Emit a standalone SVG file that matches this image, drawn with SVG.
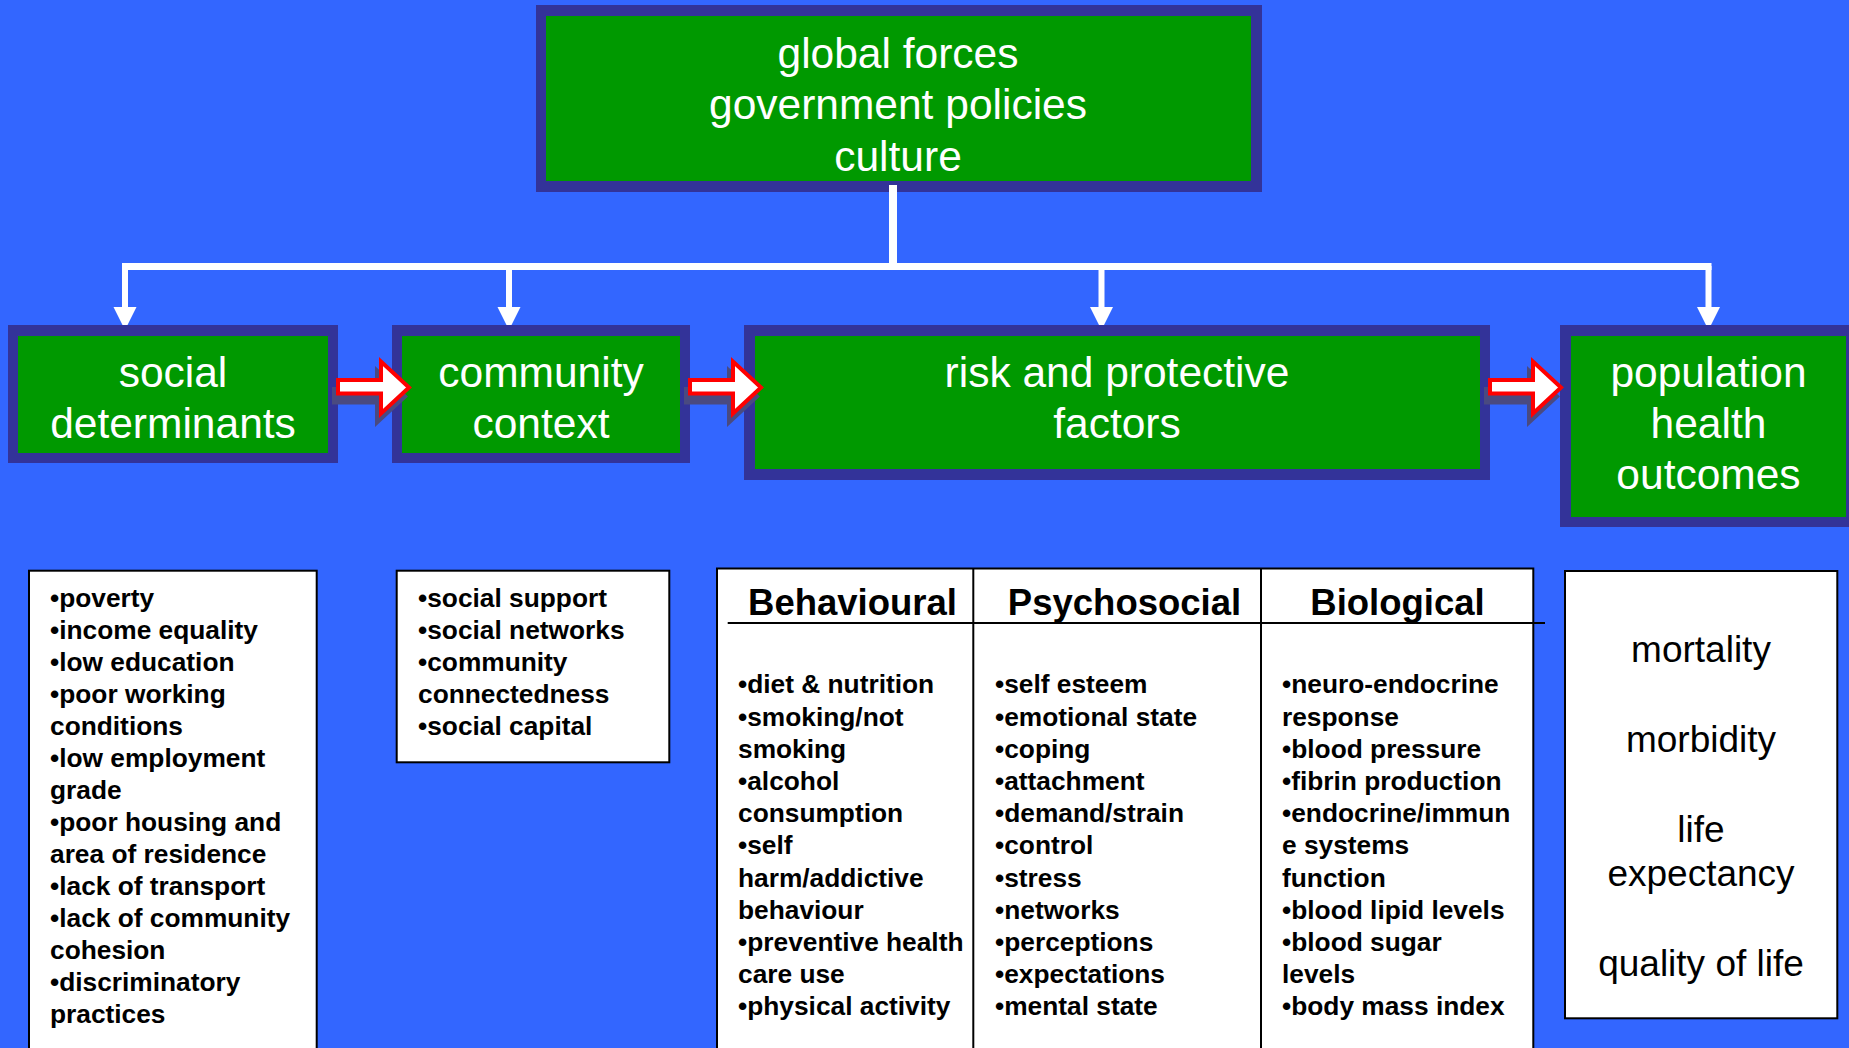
<svg xmlns="http://www.w3.org/2000/svg" width="1849" height="1048" viewBox="0 0 1849 1048">
  <style>
    .frame { fill: #333399; }
    .panel { fill: #009900; }
    .title { fill: #FFFFFF; font-family: "Liberation Sans", Arial, sans-serif; font-size: 42.5px; text-anchor: middle; }
    .card { fill: #FFFFFF; stroke: #000000; stroke-width: 2; }
    .list { fill: #000000; font-family: "Liberation Sans", Arial, sans-serif; font-size: 26.3px; font-weight: bold; }
    .colhead { fill: #000000; font-family: "Liberation Sans", Arial, sans-serif; font-size: 36.5px; font-weight: bold; text-anchor: middle; }
    .outcome { fill: #000000; font-family: "Liberation Sans", Arial, sans-serif; font-size: 37px; text-anchor: middle; }
    .wire { stroke: #FFFFFF; fill: none; }
    .tip { fill: #FFFFFF; }
    .rule { stroke: #000000; stroke-width: 2; fill: none; }
  </style>
  <defs>
    <!-- hollow block arrow with a drop shadow, used between the stage boxes -->
    <g id="blockArrow">
      <path d="M338,380 L381,380 L381,361.5 L409,387.5 L381,413.5 L381,393.5 L338,393.5 Z" transform="translate(-4,9)" fill="#4A4A80" stroke="#4A4A80" stroke-width="4" stroke-linejoin="miter"/>
      <path d="M338,380 L381,380 L381,361.5 L409,387.5 L381,413.5 L381,393.5 L338,393.5 Z" fill="#FFFFFF" stroke="#FF0000" stroke-width="4" stroke-linejoin="miter"/>
    </g>
  </defs>

  <rect x="0" y="0" width="1849" height="1048" fill="#3366FF"/>

  <!-- top node -->
  <g id="node-global">
    <rect class="frame" x="536" y="5" width="726" height="187"/>
    <rect class="panel" x="546" y="16" width="705" height="165"/>
    <text class="title" x="898" y="67.5">global forces</text>
    <text class="title" x="898" y="119">government policies</text>
    <text class="title" x="898" y="170.5">culture</text>
  </g>

  <!-- connectors from the top node -->
  <g id="connectors">
    <line class="wire" x1="893" y1="185" x2="893" y2="268" stroke-width="8"/>
    <line class="wire" x1="122" y1="266.5" x2="1711.5" y2="266.5" stroke-width="7"/>
    <line class="wire" x1="125" y1="266" x2="125" y2="309" stroke-width="6"/>
    <polygon class="tip" points="113.5,307 136.5,307 125,330"/>
    <line class="wire" x1="509" y1="266" x2="509" y2="309" stroke-width="6"/>
    <polygon class="tip" points="497.5,307 520.5,307 509,330"/>
    <line class="wire" x1="1101.5" y1="266" x2="1101.5" y2="309" stroke-width="6"/>
    <polygon class="tip" points="1090,307 1113,307 1101.5,330"/>
    <line class="wire" x1="1708.5" y1="266" x2="1708.5" y2="309" stroke-width="6"/>
    <polygon class="tip" points="1697,307 1720,307 1708.5,330"/>
  </g>

  <!-- stage nodes -->
  <g id="node-social">
    <rect class="frame" x="8" y="325" width="330" height="138"/>
    <rect class="panel" x="18" y="336" width="310" height="117"/>
    <text class="title" x="173" y="386.7">social</text>
    <text class="title" x="173" y="438.3">determinants</text>
  </g>
  <g id="node-community">
    <rect class="frame" x="392" y="325" width="298" height="138"/>
    <rect class="panel" x="402" y="336" width="278" height="117"/>
    <text class="title" x="541" y="386.7">community</text>
    <text class="title" x="541" y="438.3">context</text>
  </g>
  <g id="node-risk">
    <rect class="frame" x="744" y="325" width="746" height="155"/>
    <rect class="panel" x="755" y="336" width="725" height="133"/>
    <text class="title" x="1117" y="386.7">risk and protective</text>
    <text class="title" x="1117" y="438.3">factors</text>
  </g>
  <g id="node-population">
    <rect class="frame" x="1560" y="325" width="297" height="202"/>
    <rect class="panel" x="1571" y="336" width="275" height="181"/>
    <text class="title" x="1708.5" y="386.7">population</text>
    <text class="title" x="1708.5" y="438.3">health</text>
    <text class="title" x="1708.5" y="489.3">outcomes</text>
  </g>

  <!-- flow arrows between stages -->
  <g id="flow-arrows">
    <use href="#blockArrow"/>
    <use href="#blockArrow" transform="translate(352,0)"/>
    <use href="#blockArrow" transform="translate(1152,0)"/>
  </g>

  <!-- detail cards -->
  <g id="card-social">
    <rect class="card" x="29" y="570.7" width="287.7" height="500"/>
    <text class="list" x="50" y="606.7">
      <tspan x="50">•poverty</tspan>
      <tspan x="50" dy="32">•income equality</tspan>
      <tspan x="50" dy="32">•low education</tspan>
      <tspan x="50" dy="32">•poor working</tspan>
      <tspan x="50" dy="32">conditions</tspan>
      <tspan x="50" dy="32">•low employment</tspan>
      <tspan x="50" dy="32">grade</tspan>
      <tspan x="50" dy="32">•poor housing and</tspan>
      <tspan x="50" dy="32">area of residence</tspan>
      <tspan x="50" dy="32">•lack of transport</tspan>
      <tspan x="50" dy="32">•lack of community</tspan>
      <tspan x="50" dy="32">cohesion</tspan>
      <tspan x="50" dy="32">•discriminatory</tspan>
      <tspan x="50" dy="32">practices</tspan>
    </text>
  </g>

  <g id="card-community">
    <rect class="card" x="396.7" y="570.7" width="272.6" height="191.6"/>
    <text class="list" x="418" y="606.7">
      <tspan x="418">•social support</tspan>
      <tspan x="418" dy="32">•social networks</tspan>
      <tspan x="418" dy="32">•community</tspan>
      <tspan x="418" dy="32">connectedness</tspan>
      <tspan x="418" dy="32">•social capital</tspan>
    </text>
  </g>

  <g id="card-factors">
    <rect class="card" x="717" y="568.5" width="816.3" height="500"/>
    <line class="rule" x1="973.3" y1="568.5" x2="973.3" y2="1048"/>
    <line class="rule" x1="1261" y1="568.5" x2="1261" y2="1048"/>
    <line class="rule" x1="727.7" y1="623" x2="1545" y2="623"/>
    <text class="colhead" x="852.5" y="615">Behavioural</text>
    <text class="colhead" x="1124.5" y="615">Psychosocial</text>
    <text class="colhead" x="1397.5" y="615">Biological</text>
    <text class="list" x="738" y="693.3">
      <tspan x="738">•diet &amp; nutrition</tspan>
      <tspan x="738" dy="32.2">•smoking/not</tspan>
      <tspan x="738" dy="32.2">smoking</tspan>
      <tspan x="738" dy="32.2">•alcohol</tspan>
      <tspan x="738" dy="32.2">consumption</tspan>
      <tspan x="738" dy="32.2">•self</tspan>
      <tspan x="738" dy="32.2">harm/addictive</tspan>
      <tspan x="738" dy="32.2">behaviour</tspan>
      <tspan x="738" dy="32.2">•preventive health</tspan>
      <tspan x="738" dy="32.2">care use</tspan>
      <tspan x="738" dy="32.2">•physical activity</tspan>
    </text>
    <text class="list" x="995" y="693.3">
      <tspan x="995">•self esteem</tspan>
      <tspan x="995" dy="32.2">•emotional state</tspan>
      <tspan x="995" dy="32.2">•coping</tspan>
      <tspan x="995" dy="32.2">•attachment</tspan>
      <tspan x="995" dy="32.2">•demand/strain</tspan>
      <tspan x="995" dy="32.2">•control</tspan>
      <tspan x="995" dy="32.2">•stress</tspan>
      <tspan x="995" dy="32.2">•networks</tspan>
      <tspan x="995" dy="32.2">•perceptions</tspan>
      <tspan x="995" dy="32.2">•expectations</tspan>
      <tspan x="995" dy="32.2">•mental state</tspan>
    </text>
    <text class="list" x="1282" y="693.3">
      <tspan x="1282">•neuro-endocrine</tspan>
      <tspan x="1282" dy="32.2">response</tspan>
      <tspan x="1282" dy="32.2">•blood pressure</tspan>
      <tspan x="1282" dy="32.2">•fibrin production</tspan>
      <tspan x="1282" dy="32.2">•endocrine/immun</tspan>
      <tspan x="1282" dy="32.2">e systems</tspan>
      <tspan x="1282" dy="32.2">function</tspan>
      <tspan x="1282" dy="32.2">•blood lipid levels</tspan>
      <tspan x="1282" dy="32.2">•blood sugar</tspan>
      <tspan x="1282" dy="32.2">levels</tspan>
      <tspan x="1282" dy="32.2">•body mass index</tspan>
    </text>
  </g>

  <g id="card-outcomes">
    <rect class="card" x="1565" y="571" width="272.3" height="447.3"/>
    <text class="outcome" x="1701" y="662">mortality</text>
    <text class="outcome" x="1701" y="752">morbidity</text>
    <text class="outcome" x="1701" y="842">life</text>
    <text class="outcome" x="1701" y="885.5">expectancy</text>
    <text class="outcome" x="1701" y="975.5">quality of life</text>
  </g>
</svg>
